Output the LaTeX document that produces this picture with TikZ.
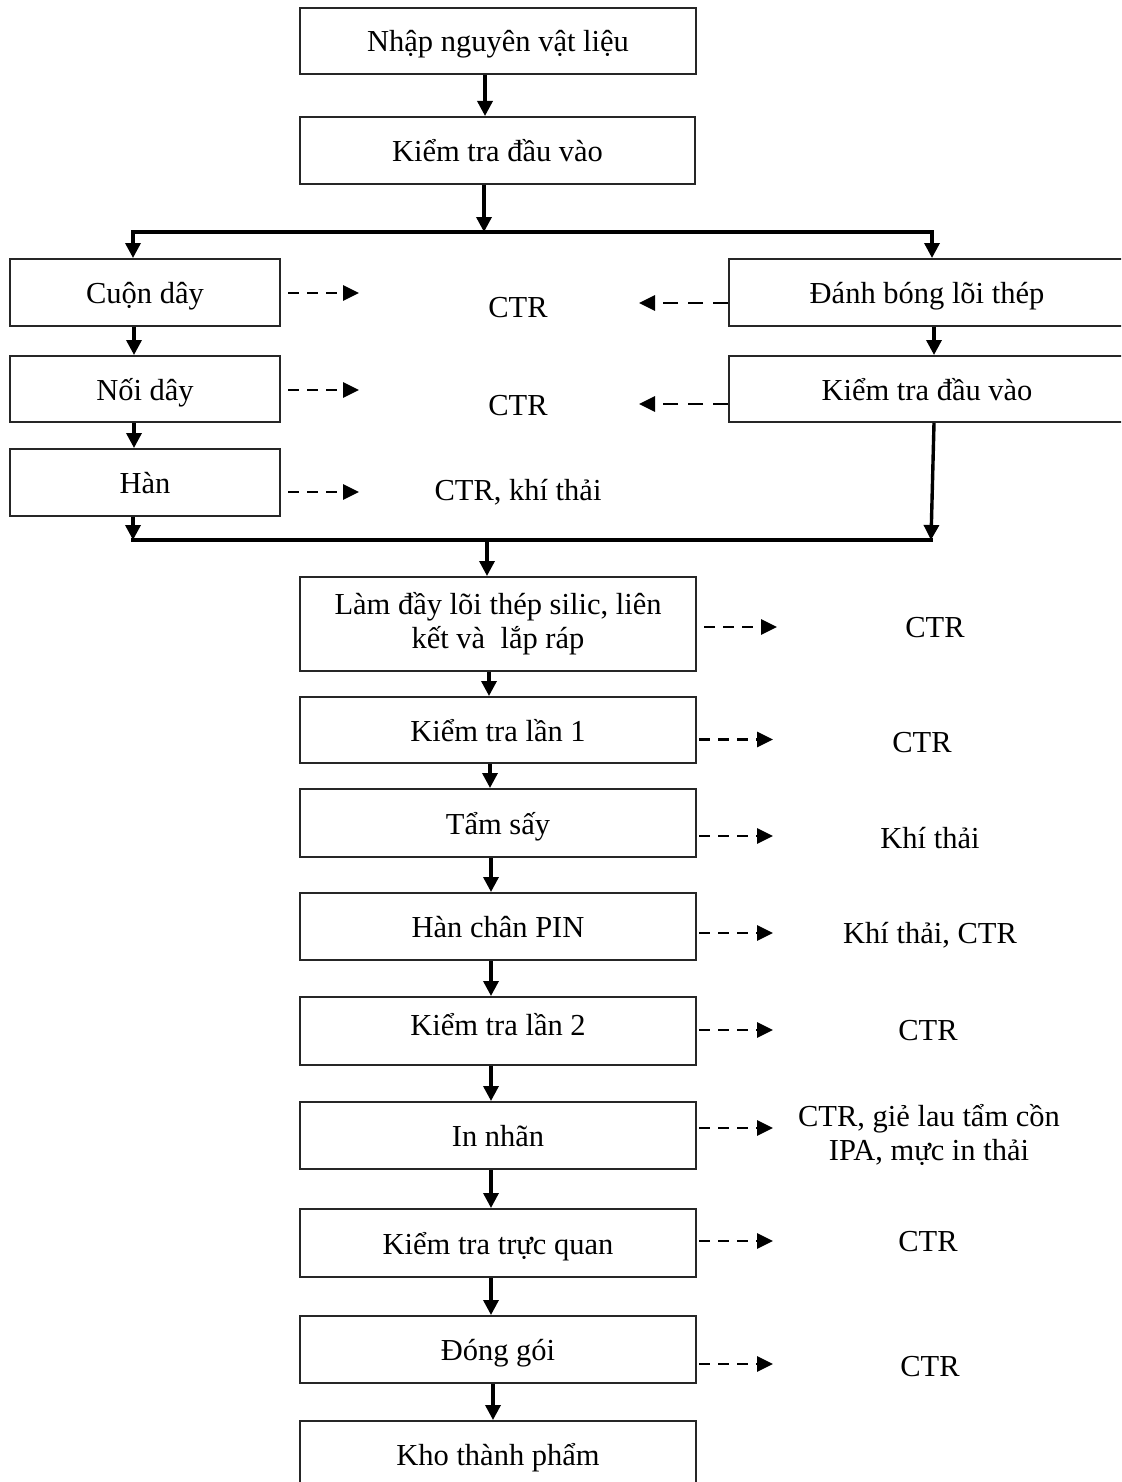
\documentclass[tikz,border=0pt]{standalone}
\usepackage{fontspec}
\setmainfont{Liberation Serif}
\usetikzlibrary{arrows.meta,calc}
\begin{document}
\begin{tikzpicture}[x=1pt,y=-1pt,
  every node/.style={font=\fontsize{30.5}{34}\selectfont},
  boxbase/.style={draw=black!85, line width=2pt, rectangle, inner sep=0pt,
    minimum height=67pt, align=center},
  box/.style={boxbase, text height=24pt, text depth=2pt},
  line/.style={line width=3.4pt, line cap=rect},
  arr/.style={line width=3.4pt, -{Triangle[length=15pt,width=15pt]}},
  darr/.style={line width=2.8pt, dash pattern=on 11pt off 8pt,
    -{Triangle[length=16pt,width=15pt]}},
  darrl/.style={darr, dash pattern=on 15pt off 10pt},
  lbl/.style={anchor=base, inner sep=0pt},
]
\path[fill=white] (0,0) rectangle (1121,1482);
\useasboundingbox (0,0) rectangle (1121,1482);
\clip (0,0) rectangle (1121,1482);

% main column, top
\node[box, minimum width=396pt, minimum height=66pt] (n1) at (498,41) {Nhập nguyên vật liệu};
\node[box, minimum width=395pt] (n2) at (497.5,150.5) {Kiểm tra đầu vào};

% left branch
\node[box, minimum width=270pt] (c1) at (145,292.5) {Cuộn dây};
\node[box, minimum width=270pt, minimum height=66pt] (c2) at (145,389) {Nối dây};
\node[box, minimum width=270pt] (c3) at (145,482.5) {Hàn};

% right branch
\node[box, minimum width=396pt] (r1) at (927,292.5) {Đánh bóng lõi thép};
\node[box, minimum width=396pt, minimum height=66pt] (r2) at (927,389) {Kiểm tra đầu vào};

% main column, after merge
\node[boxbase, minimum width=396pt, minimum height=94pt] (m1) at (498,624)
  {Làm đầy lõi thép silic, liên\\kết và~ lắp ráp};
\node[box, minimum width=396pt, minimum height=66pt] (m2) at (498,730) {Kiểm tra lần 1};
\node[box, minimum width=396pt, minimum height=68pt] (m3) at (498,823) {Tẩm sấy};
\node[box, minimum width=396pt] (m4) at (498,926.5) {Hàn chân PIN};
\node[box, minimum width=396pt, minimum height=68pt, text height=17pt, text depth=9pt] (m5) at (498,1031) {Kiểm tra lần 2};
\node[box, minimum width=396pt] (m6) at (498,1135.5) {In nhãn};
\node[box, minimum width=396pt, minimum height=68pt] (m7) at (498,1243) {Kiểm tra trực quan};
\node[box, minimum width=396pt] (m8) at (498,1349.5) {Đóng gói};
\node[box, minimum width=396pt] (k) at (498,1454.5) {Kho thành phẩm};

% waste labels
\node[lbl] (lc1) at (518,317) {CTR};
\node[lbl] (lc2) at (518,415) {CTR};
\node[lbl] (lc3) at (518,500) {CTR, khí thải};
\node[lbl] (w1) at (935,637) {CTR};
\node[lbl] (w2) at (922,752) {CTR};
\node[lbl] (w3) at (930,848) {Khí thải};
\node[lbl] (w4) at (930,943) {Khí thải, CTR};
\node[lbl] (w5) at (928,1040) {CTR};
\node[inner sep=0pt, align=center] (w6) at (929,1134.5) {CTR, giẻ lau tẩm cồn\\IPA, mực in thải};
\node[lbl] (w7) at (928,1251) {CTR};
\node[lbl] (w8) at (930,1376) {CTR};

% split after input inspection
\coordinate (xa) at (485,0);
\coordinate (sp) at (484,232);
\coordinate (spl) at (133,232);
\coordinate (spr) at (932,232);
\draw[arr] (n1.south -| xa) -- (n2.north -| xa);
\draw[arr] (n2.south -| sp) -- (sp);
\draw[line] (spl) -- (spr);
\draw[arr] (spl) -- (c1.north -| spl);
\draw[arr] (spr) -- (r1.north -| spr);

% left chain
\coordinate (xl) at (134,0);
\draw[arr] (c1.south -| xl) -- (c2.north -| xl);
\draw[arr] (c2.south -| xl) -- (c3.north -| xl);

% right chain
\coordinate (xr) at (934,0);
\draw[arr] (r1.south -| xr) -- (r2.north -| xr);

% merge
\coordinate (mgl) at (133,540);
\coordinate (mgr) at (931,540);
\coordinate (mg) at (487,540);
\draw[arr] (c3.south -| mgl) -- (mgl);
\draw[arr] (r2.south -| xr) -- (mgr);
\draw[line] (mgl) -- (mgr);
\draw[arr] (mg) -- (m1.north -| mg);

% main chain
\coordinate (x1) at (489,0);
\coordinate (x2) at (490,0);
\coordinate (x3) at (491,0);
\coordinate (x4) at (493,0);
\draw[arr] (m1.south -| x1) -- (m2.north -| x1);
\draw[arr] (m2.south -| x2) -- (m3.north -| x2);
\draw[arr] (m3.south -| x3) -- (m4.north -| x3);
\draw[arr] (m4.south -| x3) -- (m5.north -| x3);
\draw[arr] (m5.south -| x3) -- (m6.north -| x3);
\draw[arr] (m6.south -| x3) -- (m7.north -| x3);
\draw[arr] (m7.south -| x3) -- (m8.north -| x3);
\draw[arr] (m8.south -| x4) -- (k.north -| x4);

% waste outputs
\draw[darr] ($(c1.east)+(7,0.5)$) -- ++(71,0);
\draw[darr] ($(c2.east)+(7,1)$) -- ++(71,0);
\draw[darr] ($(c3.east)+(7,9.5)$) -- ++(71,0);
\draw[darrl] ($(r1.west)+(0,10.5)$) -- ++(-89,0);
\draw[darrl] ($(r2.west)+(0,15)$) -- ++(-89,0);
\draw[darr] ($(m1.east)+(7,3)$) -- ++(73,0);
\draw[darr] ($(m2.east)+(2,9.5)$) -- ++(74,0);
\draw[darr] ($(m3.east)+(2,13)$) -- ++(74,0);
\draw[darr] ($(m4.east)+(2,6.5)$) -- ++(74,0);
\draw[darr] ($(m5.east)+(2,-1)$) -- ++(74,0);
\draw[darr] ($(m6.east)+(2,-7.5)$) -- ++(74,0);
\draw[darr] ($(m7.east)+(2,-2)$) -- ++(74,0);
\draw[darr] ($(m8.east)+(2,14.5)$) -- ++(74,0);
\end{tikzpicture}
\end{document}
